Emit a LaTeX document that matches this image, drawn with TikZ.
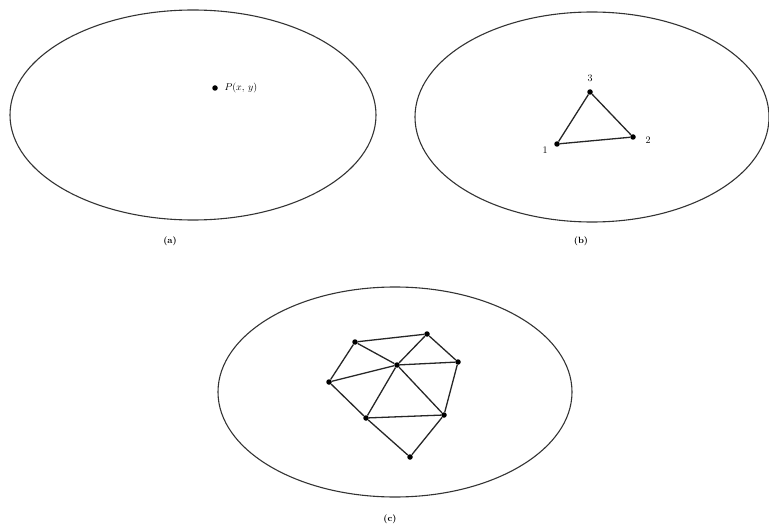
\documentclass[tikz,border=0pt]{standalone}
\begin{document}
\begin{tikzpicture}[x=1pt,y=-1pt,
  regionline/.style={draw=black!80,line width=1.1pt},
  pt/.style={circle,fill=black,inner sep=0pt,minimum size=5.5pt},
  edge/.style={draw=black!85,line width=1.3pt},
  lab/.style={font=\normalsize},
  captxt/.style={font=\small\bfseries}]
\useasboundingbox (0,0) rectangle (769,532);
% (a)
\draw[regionline] (193,115) ellipse [x radius=183, y radius=105];
\node[pt] (P) at (215,88) {};
\node[lab,anchor=west] (Pl) at (221,88) {$P(x,\,y)$};
\node[captxt] (ca) at (170,241) {(a)};
% (b)
\draw[regionline] (592,117) ellipse [x radius=177, y radius=105];
\node[pt] (n1) at (557,144) {};
\node[pt] (n2) at (633,137) {};
\node[pt] (n3) at (590,92) {};
\draw[edge] (n1) -- (n2) -- (n3) -- (n1);
\node[lab] (l1) at (545,150) {1};
\node[lab] (l2) at (648,140) {2};
\node[lab] (l3) at (590,78) {3};
\node[captxt] (cb) at (581,241) {(b)};
% (c)
\draw[regionline] (395,392) ellipse [x radius=177, y radius=105];
\node[pt] (A) at (355,342) {};
\node[pt] (B) at (427,334) {};
\node[pt] (C) at (397,365) {};
\node[pt] (D) at (458,362) {};
\node[pt] (E) at (329,382) {};
\node[pt] (F) at (366,418) {};
\node[pt] (G) at (444,415) {};
\node[pt] (H) at (410,457) {};
\draw[edge] (A) -- (B);
\draw[edge] (A) -- (E);
\draw[edge] (A) -- (C);
\draw[edge] (B) -- (C);
\draw[edge] (B) -- (D);
\draw[edge] (C) -- (D);
\draw[edge] (C) -- (E);
\draw[edge] (C) -- (F);
\draw[edge] (C) -- (G);
\draw[edge] (D) -- (G);
\draw[edge] (E) -- (F);
\draw[edge] (F) -- (G);
\draw[edge] (F) -- (H);
\draw[edge] (G) -- (H);
\node[captxt] (cc) at (390,519) {(c)};
\end{tikzpicture}
\end{document}
